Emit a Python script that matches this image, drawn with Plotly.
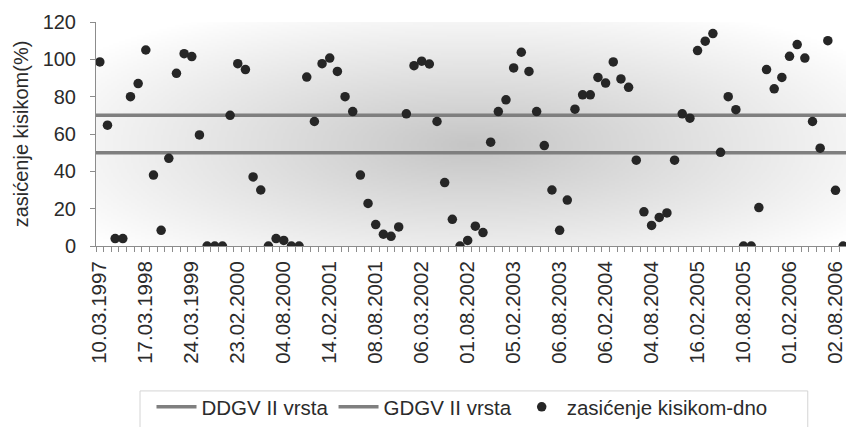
import base64
import struct
import zlib

import numpy as np
import plotly.graph_objects as go

# Oxygen saturation at the bottom layer, one value per sampling date (%)
saturation = [
    98.6, 64.7, 4, 4, 80, 87, 105, 38, 8.4, 47,
    92.5, 103, 101.5, 59.5, 0, 0, 0, 70, 97.7, 94.5,
    37, 30, 0, 4, 3, 0, 0, 90.5, 66.7, 97.7,
    100.7, 93.5, 80, 72, 38, 22.8, 11.5, 6.3, 5.2, 10.2,
    70.8, 96.6, 99, 97.5, 66.7, 34, 14.3, 0, 3, 10.6,
    7.2, 55.6, 72, 78.3, 95.4, 103.8, 93.5, 72, 53.8, 30,
    8.4, 24.6, 73.3, 81, 81, 90.3, 87.3, 98.6, 89.5, 85,
    46, 18.3, 11, 15.3, 17.7, 46, 70.8, 68.5, 104.7, 109.7,
    113.8, 50.2, 80, 73, 0, 0, 20.6, 94.5, 84.2, 90.3,
    101.6, 107.9, 100.7, 66.7, 52.4, 110, 29.8, 0,
]

# Sampling dates shown on the axis (every sixth sample)
date_labels = [
    "10.03.1997", "17.03.1998", "24.03.1999", "23.02.2000", "04.08.2000",
    "14.02.2001", "08.08.2001", "06.03.2002", "01.08.2002", "05.02.2003",
    "06.08.2003", "06.02.2004", "04.08.2004", "16.02.2005", "10.08.2005",
    "01.02.2006", "02.08.2006",
]
label_step = 6

# Class II limit values (%)
ddgv_limit = 50
gdgv_limit = 70

n = len(saturation)
idx = list(range(n))
label_pos = [i * label_step for i in range(len(date_labels))]
x_lo, x_hi = -0.5, n - 0.63


def gray_png(arr):
    h, w = arr.shape
    raw = b"".join(b"\x00" + arr[i].tobytes() for i in range(h))

    def chunk(tag, data):
        return (struct.pack(">I", len(data)) + tag + data
                + struct.pack(">I", zlib.crc32(tag + data) & 0xFFFFFFFF))

    return (b"\x89PNG\r\n\x1a\n"
            + chunk(b"IHDR", struct.pack(">IIBBBBB", w, h, 8, 0, 0, 0, 0))
            + chunk(b"IDAT", zlib.compress(raw, 9))
            + chunk(b"IEND", b""))


# Soft grey "from centre" fill for the plot area
gw, gh = 375, 112
gx = (np.arange(gw) + 0.5) / gw - 0.5
gy = (np.arange(gh) + 0.5) / gh - 0.55
GX, GY = np.meshgrid(gx, gy)
r = (np.abs(GX / 0.62) ** 2.2 + np.abs(GY / 0.66) ** 2.2) ** (1 / 2.2)
shade = np.clip(1 - r, 0, 1) ** 1.0
grad = (255 - 58 * shade).round().astype(np.uint8)
bg_src = "data:image/png;base64," + base64.b64encode(gray_png(grad)).decode()

axis_col = "#8c8c8c"
text_col = "#2b2b2b"
font_family = "Liberation Sans, Arial, sans-serif"

fig = go.Figure()
fig.add_trace(go.Scatter(
    x=[x_lo, n - 0.5], y=[ddgv_limit, ddgv_limit], mode="lines",
    name="DDGV II vrsta", line=dict(color="#7f7f7f", width=3.5),
    cliponaxis=True,
))
fig.add_trace(go.Scatter(
    x=[x_lo, n - 0.5], y=[gdgv_limit, gdgv_limit], mode="lines",
    name="GDGV II vrsta", line=dict(color="#7f7f7f", width=3.5),
    cliponaxis=True,
))
fig.add_trace(go.Scatter(
    x=idx, y=saturation, mode="markers", name="zasićenje kisikom-dno",
    marker=dict(size=9.5, color="#262626", line=dict(width=0)),
    cliponaxis=True,
))

fig.update_layout(
    width=846, height=427,
    margin=dict(l=96, r=0, t=22, b=181),
    paper_bgcolor="white",
    plot_bgcolor="rgba(0,0,0,0)",
    font=dict(family=font_family, color=text_col, size=20),
    showlegend=True,
    legend=dict(
        orientation="h", x=0.074, xanchor="left", y=-0.72, yanchor="middle",
        font=dict(size=20.5, color=text_col), bgcolor="rgba(0,0,0,0)",
        itemwidth=40, tracegroupgap=0,
    ),
    images=[dict(
        source=bg_src, xref="paper", yref="paper", x=0, y=1,
        sizex=1, sizey=1, xanchor="left", yanchor="top",
        sizing="stretch", layer="below",
    )],
    shapes=[dict(
        type="rect", xref="paper", yref="paper",
        x0=0.0587, x1=0.949, y0=-0.83, y1=-0.647,
        line=dict(color="#d4d4d4", width=1),
    )],
)

fig.update_xaxes(
    range=[x_lo, x_hi], showgrid=False, zeroline=False,
    showline=True, linecolor=axis_col, linewidth=1,
    tickmode="array", tickvals=label_pos, ticktext=date_labels,
    ticks="", tickangle=-90, tickfont=dict(size=20.5, color=text_col),
    ticklabelstandoff=6, ticklabeloverflow="allow",
    minor=dict(tickmode="linear", tick0=-0.5, dtick=1, ticks="outside",
               ticklen=5, tickcolor=axis_col, tickwidth=1),
)
fig.update_yaxes(
    range=[0, 120], dtick=20, showgrid=False, zeroline=False,
    showline=True, linecolor=axis_col, linewidth=1,
    ticks="outside", ticklen=5, tickcolor=axis_col,
    tickfont=dict(size=20, color=text_col), ticklabelstandoff=10,
    title=dict(text="zasićenje kisikom(%)", font=dict(size=20, color=text_col),
               standoff=8),
)

fig.write_html("out.html")
